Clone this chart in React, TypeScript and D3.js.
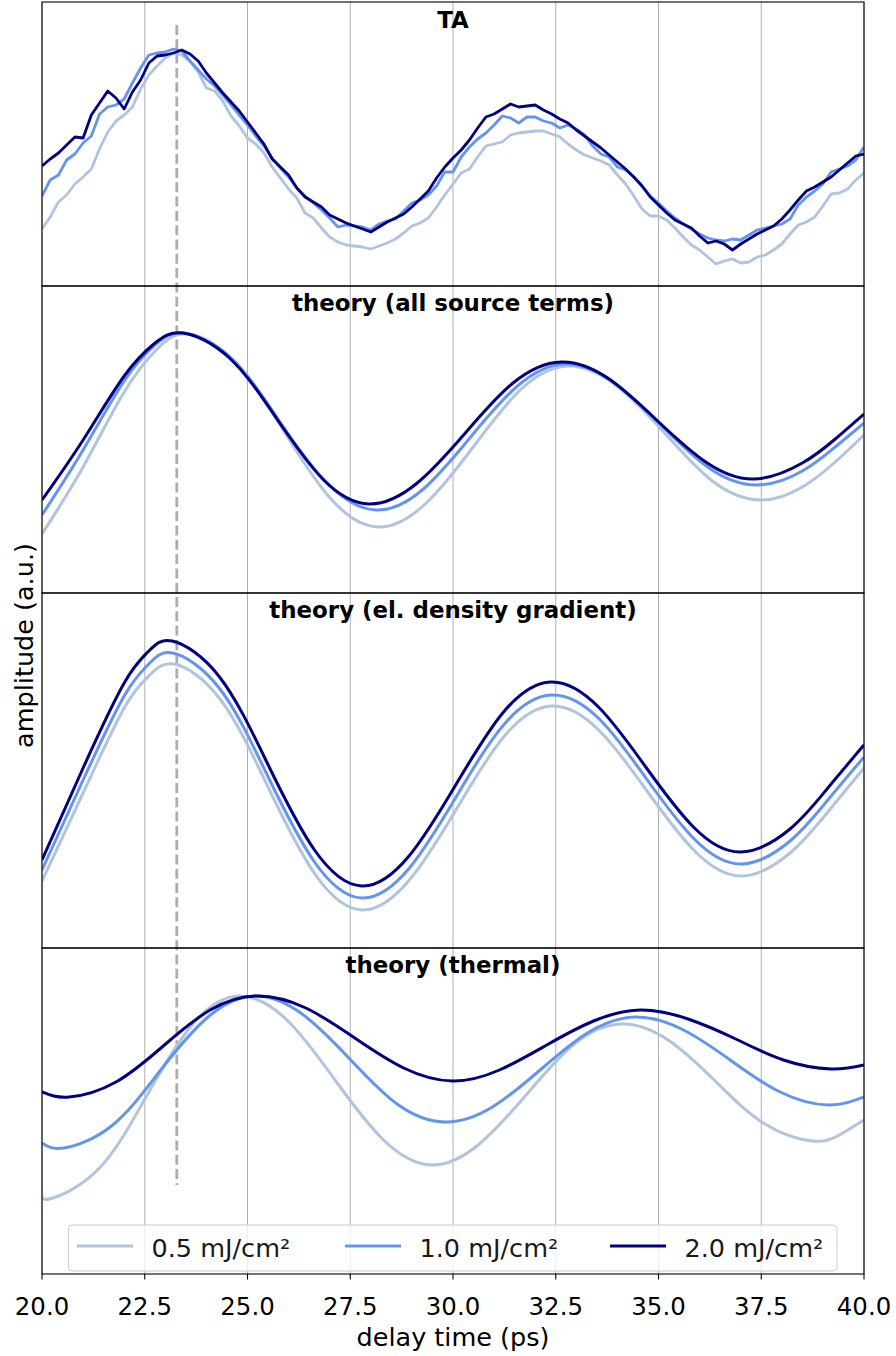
import React from "react";
import * as d3 from "d3";

// ---------- data ----------
const X_TICKS = [20, 22.5, 25, 27.5, 30, 32.5, 35, 37.5, 40];
const FLUENCES = ["0.5 mJ/cm²", "1.0 mJ/cm²", "2.0 mJ/cm²"];
const COLORS = ["#b0c4de", "#6495ed", "#000080"];
const PEAK_MARK = 23.28; // ps, first TA maximum

// transient absorption, sampled every 0.2 ps
const TA_TIMES = d3.range(101).map((i) => 20 + i * 0.2);
const TA_05 = [
  0.57, 0.69, 0.84, 0.91, 1.02, 1.09, 1.17, 1.37, 1.54, 1.65,
  1.71, 1.79, 1.97, 2.11, 2.2, 2.28, 2.33, 2.31, 2.25, 2.14,
  1.98, 1.95, 1.85, 1.7, 1.6, 1.48, 1.42, 1.33, 1.19, 1.08,
  0.97, 0.88, 0.73, 0.68, 0.58, 0.49, 0.44, 0.41, 0.4, 0.39,
  0.37, 0.4, 0.43, 0.47, 0.53, 0.6, 0.63, 0.68, 0.79, 0.91,
  1.02, 1.13, 1.17, 1.29, 1.4, 1.42, 1.44, 1.51, 1.53, 1.54,
  1.55, 1.55, 1.52, 1.49, 1.42, 1.36, 1.31, 1.28, 1.25, 1.21,
  1.11, 1.02, 0.9, 0.77, 0.7, 0.7, 0.66, 0.58, 0.49, 0.41,
  0.36, 0.29, 0.22, 0.25, 0.27, 0.23, 0.24, 0.29, 0.31, 0.36,
  0.42, 0.52, 0.61, 0.64, 0.69, 0.8, 0.92, 0.93, 0.97, 1.06,
  1.13,
];
const TA_10 = [
  0.9, 1.06, 1.11, 1.26, 1.32, 1.43, 1.5, 1.72, 1.79, 1.81,
  1.87, 2.03, 2.18, 2.31, 2.33, 2.34, 2.37, 2.35, 2.25, 2.16,
  2.07, 2.0, 1.91, 1.81, 1.71, 1.61, 1.5, 1.4, 1.28, 1.18,
  1.09, 0.98, 0.9, 0.83, 0.76, 0.68, 0.59, 0.61, 0.6, 0.59,
  0.56, 0.62, 0.65, 0.67, 0.75, 0.83, 0.86, 0.91, 1.0, 1.14,
  1.14, 1.29, 1.39, 1.47, 1.53, 1.61, 1.7, 1.68, 1.63, 1.69,
  1.69, 1.65, 1.63, 1.58, 1.61, 1.57, 1.51, 1.4, 1.32, 1.29,
  1.19, 1.16, 1.09, 1.0, 0.9, 0.83, 0.75, 0.68, 0.62, 0.57,
  0.52, 0.48, 0.46, 0.45, 0.47, 0.46, 0.51, 0.56, 0.58, 0.6,
  0.62, 0.67, 0.81, 0.89, 0.95, 1.02, 1.14, 1.17, 1.2, 1.26,
  1.39,
];
const TA_20 = [
  1.2, 1.27, 1.33, 1.41, 1.49, 1.48, 1.71, 1.83, 1.95, 1.88,
  1.77, 1.94, 2.06, 2.23, 2.3, 2.31, 2.33, 2.36, 2.32, 2.25,
  2.13, 2.03, 1.93, 1.84, 1.75, 1.64, 1.53, 1.42, 1.27, 1.19,
  1.11, 0.98, 0.89, 0.84, 0.79, 0.71, 0.67, 0.63, 0.6, 0.57,
  0.54, 0.59, 0.64, 0.68, 0.72, 0.79, 0.87, 0.95, 1.08, 1.19,
  1.28, 1.36, 1.46, 1.58, 1.69, 1.72, 1.77, 1.82, 1.79, 1.8,
  1.81, 1.76, 1.72, 1.67, 1.63, 1.56, 1.5, 1.44, 1.38, 1.31,
  1.24, 1.17, 1.09, 1.0, 0.89, 0.81, 0.73, 0.66, 0.62, 0.58,
  0.5, 0.43, 0.45, 0.42, 0.36, 0.42, 0.47, 0.52, 0.56, 0.6,
  0.67, 0.76, 0.86, 0.95, 0.99, 1.04, 1.09, 1.16, 1.23, 1.3,
  1.32,
];

// theory, all source terms: [delay (ps), amplitude (a.u.)]
const ALL_05: [number, number][] = [
  [20, 0.59], [21, 1.26], [22, 2.01], [22.8, 2.44], [23.55, 2.59], [24.71, 2.31],
  [25.87, 1.63], [27.03, 0.94], [28.19, 0.66], [29.35, 0.9], [30.51, 1.47],
  [31.66, 2.04], [32.82, 2.27], [33.99, 2.07], [35.15, 1.6], [36.31, 1.12],
  [37.48, 0.93], [38.5, 1.06], [39.3, 1.31], [40, 1.58],
];
const ALL_10: [number, number][] = [
  [20, 0.78], [21, 1.43], [22, 2.12], [22.75, 2.48], [23.45, 2.6], [24.62, 2.34],
  [25.79, 1.71], [26.96, 1.09], [28.13, 0.83], [29.28, 1.04], [30.43, 1.56],
  [31.57, 2.07], [32.72, 2.29], [33.89, 2.11], [35.06, 1.68], [36.23, 1.25],
  [37.4, 1.08], [38.5, 1.22], [39.3, 1.46], [40, 1.7],
];
const ALL_20: [number, number][] = [
  [20, 0.93], [21, 1.53], [22, 2.17], [22.75, 2.5], [23.43, 2.6], [24.56, 2.35],
  [25.7, 1.75], [26.83, 1.14], [27.96, 0.89], [29.13, 1.1], [30.3, 1.6],
  [31.46, 2.1], [32.63, 2.31], [33.8, 2.14], [34.98, 1.72], [36.15, 1.31],
  [37.32, 1.14], [38.5, 1.3], [39.3, 1.54], [40, 1.79],
];

// theory, electron density gradient
const GRAD_05: [number, number][] = [
  [20, 0.67], [21, 1.55], [22, 2.4], [22.6, 2.72], [23.21, 2.84], [24.35, 2.48],
  [25.5, 1.61], [26.64, 0.74], [27.78, 0.38], [28.94, 0.68], [30.1, 1.4],
  [31.25, 2.12], [32.41, 2.42], [33.57, 2.17], [34.72, 1.57], [35.88, 0.97],
  [37.03, 0.72], [38.2, 0.95], [39.1, 1.35], [40, 1.8],
];
const GRAD_10: [number, number][] = [
  [20, 0.78], [21, 1.68], [22, 2.52], [22.6, 2.84], [23.18, 2.95], [24.33, 2.59],
  [25.48, 1.73], [26.63, 0.86], [27.78, 0.5], [28.94, 0.8], [30.09, 1.52],
  [31.25, 2.24], [32.4, 2.53], [33.56, 2.29], [34.71, 1.69], [35.87, 1.09],
  [37.02, 0.84], [38.2, 1.07], [39.1, 1.47], [40, 1.91],
];
const GRAD_20: [number, number][] = [
  [20, 0.88], [21, 1.8], [22, 2.65], [22.6, 2.97], [23.17, 3.07], [24.32, 2.71],
  [25.48, 1.85], [26.63, 0.98], [27.78, 0.62], [28.93, 0.92], [30.08, 1.64],
  [31.23, 2.36], [32.38, 2.66], [33.54, 2.41], [34.69, 1.81], [35.85, 1.21],
  [37.0, 0.96], [38.2, 1.19], [39.1, 1.59], [40, 2.03],
];

// theory, thermal
const THERM_05: [number, number][] = [
  [20, 0.78], [20.27, 0.76], [21.4, 1.06], [22.53, 1.77], [23.65, 2.49], [24.78, 2.78],
  [25.96, 2.54], [27.13, 1.94], [28.31, 1.34], [29.48, 1.09], [30.64, 1.3],
  [31.8, 1.8], [32.95, 2.3], [34.11, 2.5], [35.27, 2.33], [36.43, 1.91],
  [37.59, 1.5], [38.75, 1.33], [39.4, 1.39], [40, 1.54],
];
const THERM_10: [number, number][] = [
  [20, 1.31], [20.53, 1.26], [21.69, 1.48], [22.85, 2.02], [24.01, 2.56], [25.17, 2.78],
  [26.33, 2.6], [27.49, 2.15], [28.64, 1.7], [29.8, 1.52], [30.96, 1.67],
  [32.12, 2.04], [33.27, 2.41], [34.43, 2.57], [35.61, 2.44], [36.78, 2.13],
  [37.96, 1.82], [39.13, 1.69], [40, 1.77],
];
const THERM_20: [number, number][] = [
  [20, 1.82], [20.66, 1.77], [21.8, 1.92], [22.95, 2.28], [24.09, 2.64], [25.23, 2.78],
  [26.42, 2.66], [27.61, 2.36], [28.8, 2.06], [29.99, 1.93], [31.13, 2.04],
  [32.28, 2.29], [33.42, 2.53], [34.56, 2.64], [35.72, 2.55], [36.88, 2.35],
  [38.04, 2.14], [39.2, 2.05], [40, 2.09],
];

const TITLES = [
  "TA",
  "theory (all source terms)",
  "theory (el. density gradient)",
  "theory (thermal)",
];
const Y_MAX = [2.84, 3.07, 3.55, 3.26];

// ---------- layout ----------
const W = 896;
const H = 1356;
const LEFT = 42;
const RIGHT = 864;
const EDGES = [2, 286, 593, 948, 1274];
const FONT = "DejaVu Sans, Verdana, sans-serif";

const taPairs = (vals: number[]): [number, number][] =>
  TA_TIMES.map((t, i) => [t, vals[i]] as [number, number]);

const PANEL_SERIES: [number, number][][][] = [
  [taPairs(TA_05), taPairs(TA_10), taPairs(TA_20)],
  [ALL_05, ALL_10, ALL_20],
  [GRAD_05, GRAD_10, GRAD_20],
  [THERM_05, THERM_10, THERM_20],
];

export default function App() {
  const x = d3.scaleLinear().domain([20, 40]).range([LEFT, RIGHT]);
  const bottomAxis = EDGES[4];

  return (
    <div style={{ position: "absolute", left: 0, top: 0 }}>
      <svg width={W} height={H} viewBox={`0 0 ${W} ${H}`} style={{ display: "block", background: "#fff" }}>
        <rect x={0} y={0} width={W} height={H} fill="#fff" />

        {/* vertical grid lines in every panel */}
        {PANEL_SERIES.map((_, p) => (
          <g key={`grid${p}`}>
            {X_TICKS.map((t) => (
              <line
                key={t}
                x1={x(t)}
                x2={x(t)}
                y1={EDGES[p]}
                y2={EDGES[p + 1]}
                stroke="#b0b0b0"
                strokeWidth={1}
              />
            ))}
          </g>
        ))}

        {/* dashed marker at the first TA maximum */}
        <line
          x1={x(PEAK_MARK)}
          x2={x(PEAK_MARK)}
          y1={25}
          y2={1185}
          stroke="#adadad"
          strokeWidth={2.8}
          strokeDasharray="10 4.3"
        />

        {/* curves */}
        {PANEL_SERIES.map((series, p) => {
          const y = d3.scaleLinear().domain([0, Y_MAX[p]]).range([EDGES[p + 1], EDGES[p]]);
          const line = d3
            .line<[number, number]>()
            .x((d) => x(d[0]))
            .y((d) => y(d[1]))
            .curve(p === 0 ? d3.curveLinear : d3.curveNatural);
          return (
            <g key={`s${p}`}>
              <clipPath id={`clip${p}`}>
                <rect x={LEFT} y={EDGES[p]} width={RIGHT - LEFT} height={EDGES[p + 1] - EDGES[p]} />
              </clipPath>
              <g clipPath={`url(#clip${p})`}>
                {series.map((s, i) => (
                  <path
                    key={i}
                    d={line(s) || ""}
                    fill="none"
                    stroke={COLORS[i]}
                    strokeWidth={p === 0 ? 2.8 : 3}
                    strokeLinejoin="round"
                    strokeLinecap="butt"
                  />
                ))}
              </g>
            </g>
          );
        })}

        {/* panel frames and titles */}
        {PANEL_SERIES.map((_, p) => (
          <g key={`f${p}`}>
            <rect
              x={LEFT}
              y={EDGES[p]}
              width={RIGHT - LEFT}
              height={EDGES[p + 1] - EDGES[p]}
              fill="none"
              stroke="#000"
              strokeWidth={1.1}
            />
            <text
              x={(LEFT + RIGHT) / 2}
              y={EDGES[p] + (p === 0 ? 26.3 : 24.7)}
              textAnchor="middle"
              fontFamily={FONT}
              fontWeight="bold"
              fontSize={22.9}
              fill="#000"
            >
              {TITLES[p]}
            </text>
          </g>
        ))}

        {/* legend */}
        <g>
          <rect
            x={68.5}
            y={1225}
            width={768.5}
            height={46}
            rx={4}
            fill="#fff"
            fillOpacity={0.8}
            stroke="#cccccc"
            strokeWidth={1}
          />
          {FLUENCES.map((label, i) => {
            const x0 = [77, 345, 610][i];
            return (
              <g key={label}>
                <line x1={x0} x2={x0 + 56} y1={1246} y2={1246} stroke={COLORS[i]} strokeWidth={3} />
                <text x={x0 + 74.5} y={1256.5} fontFamily={FONT} fontSize={25.5} fill="#1a1a1a">
                  {label}
                </text>
              </g>
            );
          })}
        </g>

        {/* x axis */}
        {X_TICKS.map((t) => (
          <g key={`t${t}`}>
            <line x1={x(t)} x2={x(t)} y1={bottomAxis} y2={bottomAxis + 5.5} stroke="#000" strokeWidth={1.1} />
            <text x={x(t)} y={1315} textAnchor="middle" fontFamily={FONT} fontSize={24.4} fill="#000">
              {d3.format(".1f")(t)}
            </text>
          </g>
        ))}
        <text x={(LEFT + RIGHT) / 2} y={1346} textAnchor="middle" fontFamily={FONT} fontSize={25.5} fill="#000">
          delay time (ps)
        </text>
        <text
          transform={`translate(32.5, ${645.5}) rotate(-90)`}
          textAnchor="middle"
          fontFamily={FONT}
          fontSize={25.5}
          fill="#000"
        >
          amplitude (a.u.)
        </text>
      </svg>
    </div>
  );
}
